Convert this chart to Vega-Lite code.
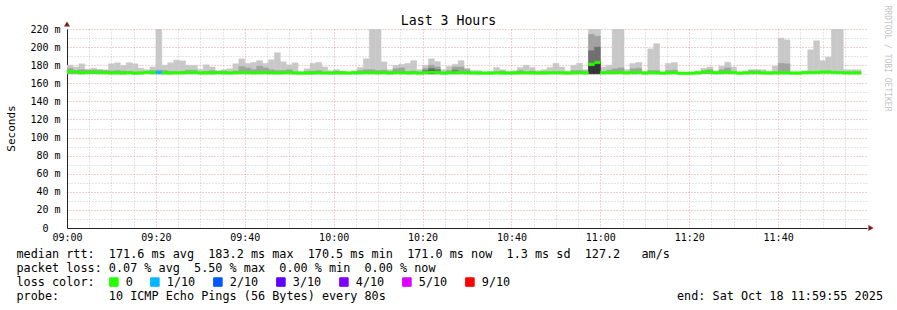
{
 "$schema": "https://vega.github.io/schema/vega-lite/v6.json",
 "width": 800,
 "height": 199,
 "autosize": {"type": "none"},
 "padding": {"left": 67, "top": 29, "right": 30, "bottom": 82},
 "background": "#ffffff",
 "config": {"view": {"stroke": null}, "font": "DejaVu Sans Mono", "scale": {"continuousPadding": 0}},
 "datasets": {
  "smoke": [
   {"t":0,"t2":80,"lo":170.6,"hi":180,"a":176.5,"med":172.8,"loss":"0"},
   {"t":80,"t2":160,"lo":170.6,"hi":178,"a":174,"med":172.6,"loss":"0"},
   {"t":160,"t2":240,"lo":170.6,"hi":181.5,"a":175,"med":171.6,"loss":"0"},
   {"t":240,"t2":320,"lo":170.6,"hi":175.5,"a":174.5,"med":172.2,"loss":"0"},
   {"t":320,"t2":400,"lo":170.6,"hi":176.7,"a":174.5,"med":172.2,"loss":"0"},
   {"t":400,"t2":480,"lo":170.6,"hi":175.5,"a":174.5,"med":172.0,"loss":"0"},
   {"t":480,"t2":560,"lo":170.6,"hi":175,"a":174,"med":171.8,"loss":"0"},
   {"t":560,"t2":640,"lo":170.6,"hi":181.5,"a":173.5,"med":171.5,"loss":"0"},
   {"t":640,"t2":720,"lo":170.6,"hi":182.6,"a":174,"med":171.6,"loss":"0"},
   {"t":720,"t2":800,"lo":170.6,"hi":179.6,"a":173.5,"med":171.4,"loss":"0"},
   {"t":800,"t2":880,"lo":170.6,"hi":182.6,"a":173,"med":171.6,"loss":"0"},
   {"t":880,"t2":960,"lo":170.6,"hi":181.5,"med":171.2,"loss":"0"},
   {"t":960,"t2":1040,"lo":170.6,"hi":176.7,"med":171.4,"loss":"0"},
   {"t":1040,"t2":1120,"lo":170.6,"hi":175,"med":172.0,"loss":"0"},
   {"t":1120,"t2":1200,"lo":170.6,"hi":178,"a":174,"med":171.8,"loss":"0"},
   {"t":1200,"t2":1280,"lo":170.6,"hi":221,"a":174.5,"med":171.9,"loss":"1/10"},
   {"t":1280,"t2":1360,"lo":170.6,"hi":180,"a":174,"med":171.5,"loss":"0"},
   {"t":1360,"t2":1440,"lo":170.6,"hi":182.6,"a":173,"med":171.4,"loss":"0"},
   {"t":1440,"t2":1520,"lo":170.6,"hi":185.6,"med":171.6,"loss":"0"},
   {"t":1520,"t2":1600,"lo":170.6,"hi":184.8,"a":173,"med":171.6,"loss":"0"},
   {"t":1600,"t2":1680,"lo":170.6,"hi":180,"a":174.5,"med":172.0,"loss":"0"},
   {"t":1680,"t2":1760,"lo":170.6,"hi":179.6,"a":174.5,"med":172.0,"loss":"0"},
   {"t":1760,"t2":1840,"lo":170.6,"hi":175.5,"med":171.4,"loss":"0"},
   {"t":1840,"t2":1920,"lo":170.6,"hi":180.4,"a":173,"med":171.6,"loss":"0"},
   {"t":1920,"t2":2000,"lo":170.6,"hi":178,"a":174,"med":171.5,"loss":"0"},
   {"t":2000,"t2":2080,"lo":170.6,"hi":174,"a":173,"med":171.8,"loss":"0"},
   {"t":2080,"t2":2160,"lo":170.6,"hi":175,"a":173.5,"med":171.6,"loss":"0"},
   {"t":2160,"t2":2240,"lo":170.6,"hi":176,"med":171.4,"loss":"0"},
   {"t":2240,"t2":2320,"lo":170.6,"hi":181.5,"a":173.5,"med":171.6,"loss":"0"},
   {"t":2320,"t2":2400,"lo":170.6,"hi":187,"a":178.5,"med":172.0,"loss":"0"},
   {"t":2400,"t2":2480,"lo":170.6,"hi":182,"a":177,"med":171.8,"loss":"0"},
   {"t":2480,"t2":2560,"lo":170.6,"hi":183,"a":175,"med":171.6,"loss":"0"},
   {"t":2560,"t2":2640,"lo":170.6,"hi":185,"a":179,"med":171.8,"loss":"0"},
   {"t":2640,"t2":2720,"lo":170.6,"hi":182,"a":177,"med":171.8,"loss":"0"},
   {"t":2720,"t2":2800,"lo":170.6,"hi":186,"a":175,"med":171.6,"loss":"0"},
   {"t":2800,"t2":2880,"lo":170.6,"hi":193.7,"a":174,"med":171.5,"loss":"0"},
   {"t":2880,"t2":2960,"lo":170.6,"hi":183.7,"a":174,"med":171.6,"loss":"0"},
   {"t":2960,"t2":3040,"lo":170.6,"hi":180.4,"a":175,"med":171.9,"loss":"0"},
   {"t":3040,"t2":3120,"lo":170.6,"hi":182.6,"med":171.4,"loss":"0"},
   {"t":3120,"t2":3200,"lo":170.6,"hi":172.5,"med":171.3,"loss":"0"},
   {"t":3200,"t2":3280,"lo":170.6,"hi":176,"a":173,"med":171.3,"loss":"0"},
   {"t":3280,"t2":3360,"lo":170.6,"hi":182,"a":173.5,"med":171.4,"loss":"0"},
   {"t":3360,"t2":3440,"lo":170.6,"hi":183,"a":174,"med":171.6,"loss":"0"},
   {"t":3440,"t2":3520,"lo":170.6,"hi":178,"med":171.4,"loss":"0"},
   {"t":3520,"t2":3600,"lo":170.6,"hi":174,"med":171.3,"loss":"0"},
   {"t":3600,"t2":3680,"lo":170.6,"hi":175,"a":173.5,"med":171.5,"loss":"0"},
   {"t":3680,"t2":3760,"lo":170.6,"hi":173.7,"a":173,"med":171.4,"loss":"0"},
   {"t":3760,"t2":3840,"lo":170.6,"hi":172.5,"med":171.3,"loss":"0"},
   {"t":3840,"t2":3920,"lo":170.6,"hi":174,"med":171.5,"loss":"0"},
   {"t":3920,"t2":4000,"lo":170.6,"hi":177.4,"a":174,"med":171.6,"loss":"0"},
   {"t":4000,"t2":4080,"lo":170.6,"hi":187,"a":175,"med":171.8,"loss":"0"},
   {"t":4080,"t2":4160,"lo":170.6,"hi":221,"a":175,"med":171.8,"loss":"0"},
   {"t":4160,"t2":4240,"lo":170.6,"hi":221,"a":174,"med":171.6,"loss":"0"},
   {"t":4240,"t2":4320,"lo":170.6,"hi":183.7,"a":174.5,"med":171.8,"loss":"0"},
   {"t":4320,"t2":4400,"lo":170.6,"hi":175,"a":173,"med":171.4,"loss":"0"},
   {"t":4400,"t2":4480,"lo":170.6,"hi":180,"a":176,"med":171.7,"loss":"0"},
   {"t":4480,"t2":4560,"lo":170.6,"hi":181,"a":177,"med":171.8,"loss":"0"},
   {"t":4560,"t2":4640,"lo":170.6,"hi":182,"a":173,"med":171.5,"loss":"0"},
   {"t":4640,"t2":4720,"lo":170.6,"hi":185,"a":173.5,"med":171.6,"loss":"0"},
   {"t":4720,"t2":4800,"lo":170.6,"hi":175,"med":171.3,"loss":"0"},
   {"t":4800,"t2":4880,"lo":170.6,"hi":180,"a":176.5,"b":174,"med":171.8,"loss":"0"},
   {"t":4880,"t2":4960,"lo":170.6,"hi":187,"a":180,"b":176.5,"c":174,"med":172.2,"loss":"0"},
   {"t":4960,"t2":5040,"lo":170.6,"hi":184,"a":178,"b":175,"med":172.0,"loss":"0"},
   {"t":5040,"t2":5120,"lo":170.6,"hi":175,"med":171.3,"loss":"0"},
   {"t":5120,"t2":5200,"lo":170.6,"hi":178.5,"a":174,"med":171.6,"loss":"0"},
   {"t":5200,"t2":5280,"lo":170.6,"hi":181,"a":178,"b":174.5,"med":171.9,"loss":"0"},
   {"t":5280,"t2":5360,"lo":170.6,"hi":185,"a":178,"med":171.8,"loss":"0"},
   {"t":5360,"t2":5440,"lo":170.6,"hi":176.7,"a":175,"med":171.6,"loss":"0"},
   {"t":5440,"t2":5520,"lo":170.6,"hi":174,"med":171.4,"loss":"0"},
   {"t":5520,"t2":5600,"lo":170.6,"hi":174,"med":171.3,"loss":"0"},
   {"t":5600,"t2":5680,"lo":170.6,"hi":172.5,"med":171.2,"loss":"0"},
   {"t":5680,"t2":5760,"lo":170.6,"hi":173,"med":171.3,"loss":"0"},
   {"t":5760,"t2":5840,"lo":170.6,"hi":177.4,"med":171.5,"loss":"0"},
   {"t":5840,"t2":5920,"lo":170.6,"hi":175,"a":173.5,"med":171.4,"loss":"0"},
   {"t":5920,"t2":6000,"lo":170.6,"hi":173,"med":171.3,"loss":"0"},
   {"t":6000,"t2":6080,"lo":170.6,"hi":174,"med":171.4,"loss":"0"},
   {"t":6080,"t2":6160,"lo":170.6,"hi":177.4,"a":174,"med":171.6,"loss":"0"},
   {"t":6160,"t2":6240,"lo":170.6,"hi":180,"med":171.5,"loss":"0"},
   {"t":6240,"t2":6320,"lo":170.6,"hi":177.4,"a":173.5,"med":171.5,"loss":"0"},
   {"t":6320,"t2":6400,"lo":170.6,"hi":174,"med":171.3,"loss":"0"},
   {"t":6400,"t2":6480,"lo":170.6,"hi":175,"a":173,"med":171.4,"loss":"0"},
   {"t":6480,"t2":6560,"lo":170.6,"hi":177.4,"med":171.6,"loss":"0"},
   {"t":6560,"t2":6640,"lo":170.6,"hi":182,"med":171.6,"loss":"0"},
   {"t":6640,"t2":6720,"lo":170.6,"hi":178,"med":171.5,"loss":"0"},
   {"t":6720,"t2":6800,"lo":170.6,"hi":173,"med":171.3,"loss":"0"},
   {"t":6800,"t2":6880,"lo":170.6,"hi":180,"a":174,"med":171.6,"loss":"0"},
   {"t":6880,"t2":6960,"lo":170.6,"hi":182,"a":174,"med":171.8,"loss":"0"},
   {"t":6960,"t2":7040,"lo":170.6,"hi":175,"a":173.5,"med":171.5,"loss":"0"},
   {"t":7040,"t2":7120,"lo":170.6,"hi":221,"a":214,"b":196,"c":180,"med":180.8,"loss":"0"},
   {"t":7120,"t2":7200,"lo":170.6,"hi":222,"a":212,"b":200,"c":184,"med":183.0,"loss":"0"},
   {"t":7200,"t2":7280,"lo":170.6,"hi":178,"med":171.6,"loss":"0"},
   {"t":7280,"t2":7360,"lo":170.6,"hi":180,"a":174.5,"med":171.8,"loss":"0"},
   {"t":7360,"t2":7440,"lo":170.6,"hi":221,"a":176,"med":171.8,"loss":"0"},
   {"t":7440,"t2":7520,"lo":170.6,"hi":221,"a":177,"med":172.0,"loss":"0"},
   {"t":7520,"t2":7600,"lo":170.6,"hi":175,"med":171.5,"loss":"0"},
   {"t":7600,"t2":7680,"lo":170.6,"hi":182,"a":176,"med":171.8,"loss":"0"},
   {"t":7680,"t2":7760,"lo":170.6,"hi":183,"a":176.5,"med":172.0,"loss":"0"},
   {"t":7760,"t2":7840,"lo":170.6,"hi":173,"med":171.3,"loss":"0"},
   {"t":7840,"t2":7920,"lo":170.6,"hi":198,"a":174,"med":171.6,"loss":"0"},
   {"t":7920,"t2":8000,"lo":170.6,"hi":203.7,"a":174,"med":171.6,"loss":"0"},
   {"t":8000,"t2":8080,"lo":170.6,"hi":172,"med":171.2,"loss":"0"},
   {"t":8080,"t2":8160,"lo":170.6,"hi":182,"a":174,"med":171.6,"loss":"0"},
   {"t":8160,"t2":8240,"lo":170.6,"hi":183,"a":174.5,"med":171.8,"loss":"0"},
   {"t":8240,"t2":8320,"lo":170.5,"hi":171.5,"med":171.0,"loss":"0"},
   {"t":8320,"t2":8400,"lo":170.5,"hi":171.5,"med":171.0,"loss":"0"},
   {"t":8400,"t2":8480,"lo":170.6,"hi":172,"med":171.2,"loss":"0"},
   {"t":8480,"t2":8560,"lo":170.6,"hi":173,"med":171.5,"loss":"0"},
   {"t":8560,"t2":8640,"lo":170.6,"hi":176.7,"a":174,"med":172.4,"loss":"0"},
   {"t":8640,"t2":8720,"lo":170.6,"hi":178,"a":175,"med":172.6,"loss":"0"},
   {"t":8720,"t2":8800,"lo":170.6,"hi":173.7,"med":171.6,"loss":"0"},
   {"t":8800,"t2":8880,"lo":170.6,"hi":179,"a":175,"med":172.0,"loss":"0"},
   {"t":8880,"t2":8960,"lo":170.6,"hi":183.3,"a":177,"med":172.2,"loss":"0"},
   {"t":8960,"t2":9040,"lo":170.6,"hi":178,"med":171.8,"loss":"0"},
   {"t":9040,"t2":9120,"lo":170.6,"hi":172,"med":171.2,"loss":"0"},
   {"t":9120,"t2":9200,"lo":170.6,"hi":173.7,"med":171.4,"loss":"0"},
   {"t":9200,"t2":9280,"lo":170.6,"hi":175,"a":174,"med":171.8,"loss":"0"},
   {"t":9280,"t2":9360,"lo":170.6,"hi":175,"a":174,"med":171.8,"loss":"0"},
   {"t":9360,"t2":9440,"lo":170.6,"hi":175,"med":171.5,"loss":"0"},
   {"t":9440,"t2":9520,"lo":170.6,"hi":173,"med":171.3,"loss":"0"},
   {"t":9520,"t2":9600,"lo":170.6,"hi":179,"med":171.5,"loss":"0"},
   {"t":9600,"t2":9680,"lo":170.6,"hi":210,"a":182,"med":171.6,"loss":"0"},
   {"t":9680,"t2":9760,"lo":170.6,"hi":208,"a":181.5,"med":171.6,"loss":"0"},
   {"t":9760,"t2":9840,"lo":170.6,"hi":172,"med":171.3,"loss":"0"},
   {"t":9840,"t2":9920,"lo":170.6,"hi":172,"med":171.3,"loss":"0"},
   {"t":9920,"t2":10000,"lo":170.6,"hi":173.7,"med":171.8,"loss":"0"},
   {"t":10000,"t2":10080,"lo":170.6,"hi":197,"med":171.9,"loss":"0"},
   {"t":10080,"t2":10160,"lo":170.6,"hi":207,"med":172.0,"loss":"0"},
   {"t":10160,"t2":10240,"lo":170.6,"hi":185,"med":172.4,"loss":"0"},
   {"t":10240,"t2":10320,"lo":170.6,"hi":189,"med":172.4,"loss":"0"},
   {"t":10320,"t2":10400,"lo":170.6,"hi":221,"med":172.0,"loss":"0"},
   {"t":10400,"t2":10480,"lo":170.6,"hi":221,"med":171.8,"loss":"0"},
   {"t":10480,"t2":10560,"lo":170.6,"hi":175,"med":171.5,"loss":"0"},
   {"t":10560,"t2":10640,"lo":170.6,"hi":175,"med":171.5,"loss":"0"},
   {"t":10640,"t2":10720,"lo":170.6,"hi":175,"med":171.5,"loss":"0"}
  ],
  "arrows": [
   {"t": 0, "v": 225.5, "dir": "up"},
   {"t": 10854, "v": 0, "dir": "right"}
  ]
 },
 "resolve": {"axis": {"x": "independent", "y": "independent"}},
 "layer": [
  {
   "data": {"name": "smoke"},
   "mark": {"type": "rect", "fill": "#c8c8c8", "stroke": "#c8c8c8", "strokeWidth": 0.5, "clip": true},
   "encoding": {
    "x": {"field": "t", "type": "quantitative", "scale": {"domain": [0, 10800], "nice": false, "zero": false, "padding": 0},
     "axis": {"orient": "top", "values": [300,600,900,1500,1800,2100,2700,3000,3300,3900,4200,4500,5100,5400,5700,6300,6600,6900,7500,7800,8100,8700,9000,9300,9900,10200,10500],
      "grid": true, "gridColor": "#a0a0a0", "gridOpacity": 0.55, "gridDash": [1, 2], "gridWidth": 1,
      "labels": false, "ticks": false, "domain": false,
      "title": "Last 3 Hours", "titleX": 381, "titleY": -5, "titleAlign": "center", "titleBaseline": "alphabetic", "titleAngle": 0,
      "titleFont": "DejaVu Sans Mono", "titleFontSize": 13.2, "titleFontWeight": "normal", "titleColor": "#000000"}},
    "x2": {"field": "t2"},
    "y": {"field": "lo", "type": "quantitative", "scale": {"domain": [0, 220], "nice": false, "zero": false, "padding": 0},
     "axis": {"orient": "right", "values": [10,30,50,70,90,110,130,150,170,190,210],
      "grid": true, "gridColor": "#a0a0a0", "gridOpacity": 0.55, "gridDash": [1, 2], "gridWidth": 1,
      "labels": false, "ticks": false, "domain": false,
      "title": "RRDTOOL / TOBI OETIKER", "titleX": 19, "titleY": -24, "titleAngle": 90, "titleAlign": "left", "titleBaseline": "middle",
      "titleFont": "DejaVu Sans Mono", "titleFontSize": 8, "titleFontWeight": "normal", "titleColor": "#c4c4c4"}},
    "y2": {"field": "hi"}
   }
  },
  {
   "data": {"name": "smoke"},
   "transform": [{"filter": "isValid(datum.a)"}],
   "mark": {"type": "rect", "fill": "#a2a2a2", "stroke": "#a2a2a2", "strokeWidth": 0.5, "clip": true},
   "encoding": {
    "x": {"field": "t", "type": "quantitative", "axis": null},
    "x2": {"field": "t2"},
    "y": {"field": "lo", "type": "quantitative", "axis": null},
    "y2": {"field": "a"}
   }
  },
  {
   "data": {"name": "smoke"},
   "transform": [{"filter": "isValid(datum.b)"}],
   "mark": {"type": "rect", "fill": "#707070", "stroke": "#707070", "strokeWidth": 0.5, "clip": true},
   "encoding": {
    "x": {"field": "t", "type": "quantitative", "axis": null},
    "x2": {"field": "t2"},
    "y": {"field": "lo", "type": "quantitative", "axis": null},
    "y2": {"field": "b"}
   }
  },
  {
   "data": {"name": "smoke"},
   "transform": [{"filter": "isValid(datum.c)"}],
   "mark": {"type": "rect", "fill": "#353535", "stroke": "#353535", "strokeWidth": 0.5, "clip": true},
   "encoding": {
    "x": {"field": "t", "type": "quantitative", "axis": null},
    "x2": {"field": "t2"},
    "y": {"field": "lo", "type": "quantitative", "axis": null},
    "y2": {"field": "c"}
   }
  },
  {
   "data": {"name": "smoke"},
   "mark": {"type": "bar", "orient": "horizontal", "height": 2.6, "strokeWidth": 0.5},
   "encoding": {
    "x": {"field": "t", "type": "quantitative",
     "axis": {"orient": "bottom", "values": [0,1200,2400,3600,4800,6000,7200,8400,9600],
      "grid": true, "gridColor": "#e06060", "gridOpacity": 0.6, "gridDash": [1, 2], "gridWidth": 1,
      "labelExpr": "format(9 + floor(datum.value / 3600), '02d') + ':' + format(floor((datum.value % 3600) / 60), '02d')",
      "labelFont": "DejaVu Sans Mono", "labelFontSize": 10, "labelColor": "#000000", "labelPadding": 4,
      "labelFlush": false, "labelOverlap": false, "ticks": false,
      "domain": true, "domainColor": "#222222", "domainWidth": 1,
      "title": [
       "median rtt:\u00a0\u00a0171.6 ms avg\u00a0\u00a0183.2 ms max\u00a0\u00a0170.5 ms min\u00a0\u00a0171.0 ms now\u00a0\u00a01.3 ms sd\u00a0\u00a0127.2\u00a0\u00a0\u00a0am/s",
       "packet loss: 0.07 % avg\u00a0\u00a05.50 % max\u00a0\u00a00.00 % min\u00a0\u00a00.00 % now",
       "loss color:",
       "probe:\u00a0\u00a0\u00a0\u00a0\u00a0\u00a0\u00a010 ICMP Echo Pings (56 Bytes) every 80s\u00a0\u00a0\u00a0\u00a0\u00a0\u00a0\u00a0\u00a0\u00a0\u00a0\u00a0\u00a0\u00a0\u00a0\u00a0\u00a0\u00a0\u00a0\u00a0\u00a0\u00a0\u00a0\u00a0\u00a0\u00a0\u00a0\u00a0\u00a0\u00a0\u00a0\u00a0\u00a0\u00a0\u00a0\u00a0\u00a0\u00a0\u00a0\u00a0\u00a0\u00a0end: Sat Oct 18 11:59:55 2025"
      ],
      "titleX": -51, "titleY": 20, "titleAlign": "left", "titleBaseline": "top", "titleAngle": 0, "titleLineHeight": 14,
      "titleFont": "DejaVu Sans Mono", "titleFontSize": 11.8, "titleFontWeight": "normal", "titleColor": "#000000"}},
    "x2": {"field": "t2"},
    "y": {"field": "med", "type": "quantitative",
     "axis": {"orient": "left", "values": [0,20,40,60,80,100,120,140,160,180,200,220],
      "grid": true, "gridColor": "#e06060", "gridOpacity": 0.6, "gridDash": [1, 2], "gridWidth": 1,
      "labelExpr": "datum.value == 0 ? '0' : datum.value + ' m'",
      "labelFont": "DejaVu Sans Mono", "labelFontSize": 10, "labelColor": "#000000",
      "labelPadding": {"condition": {"test": "datum.value == 0", "value": 19}, "value": 7},
      "labelFlush": false, "labelOverlap": false, "ticks": false,
      "domain": true, "domainColor": "#222222", "domainWidth": 1,
      "title": "Seconds", "titleX": -56, "titleY": 99, "titleAngle": -90, "titleAlign": "center", "titleBaseline": "middle",
      "titleFont": "DejaVu Sans Mono", "titleFontSize": 11, "titleFontWeight": "normal", "titleColor": "#000000"}},
    "fill": {"field": "loss", "type": "nominal",
     "scale": {"domain": ["0","1/10","2/10","3/10","4/10","5/10","9/10"], "range": ["#26ff00","#00b8ff","#0059ff","#5e00ff","#7e00ff","#dd00ff","#ff0000"]},
     "legend": {"orient": "none", "legendX": 41, "legendY": 247, "direction": "horizontal", "columns": 7, "title": null,
      "symbolType": "square", "symbolSize": 72, "symbolStrokeColor": "#000000", "symbolStrokeWidth": 1, "symbolOpacity": 1,
      "labelFont": "DejaVu Sans Mono", "labelFontSize": 11.8, "labelColor": "#000000", "labelOffset": 6,
      "columnPadding": 15, "padding": 0}},
    "stroke": {"field": "loss", "type": "nominal",
     "scale": {"domain": ["0","1/10","2/10","3/10","4/10","5/10","9/10"], "range": ["#26ff00","#00b8ff","#0059ff","#5e00ff","#7e00ff","#dd00ff","#ff0000"]},
     "legend": null}
   }
  },
  {
   "data": {"name": "arrows"},
   "mark": {"type": "point", "filled": true, "size": 36, "color": "#7f1f1f", "opacity": 1},
   "encoding": {
    "x": {"field": "t", "type": "quantitative", "axis": null},
    "y": {"field": "v", "type": "quantitative", "axis": null},
    "shape": {"field": "dir", "type": "nominal", "scale": {"domain": ["up", "right"], "range": ["triangle-up", "triangle-right"]}, "legend": null}
   }
  }
 ]
}
